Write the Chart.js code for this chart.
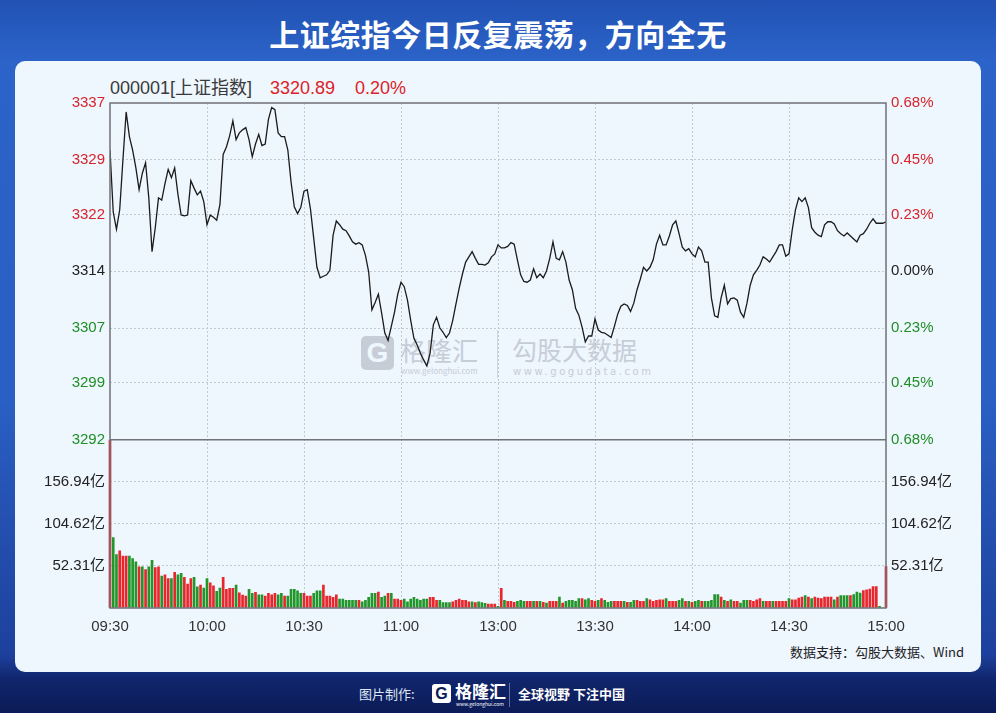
<!DOCTYPE html>
<html>
<head>
<meta charset="utf-8">
<script src="https://cdn.jsdelivr.net/npm/chart.js@4"></script>
<style>
  body { margin: 0; width: 996px; height: 713px; overflow: hidden; position: relative;
    font-family: "Liberation Sans", Arial, "Noto Sans CJK SC", sans-serif;
    background: linear-gradient(180deg, #2152b4 0px, #2c63c8 60px, #2a5fc3 400px, #1d409d 655px, #10256b 680px, #0b1b57 713px); }
  #title { position: absolute; left: 0; top: 13px; width: 996px; text-align: center; color: #fff;
    font: bold 30px/40px "Noto Sans CJK SC", sans-serif; letter-spacing: 0.5px; }
  #panel { position: absolute; left: 15px; top: 61px; width: 966px; height: 611px; border-radius: 10px; background: #eef6fe; }
  .abs { position: absolute; white-space: nowrap; }
  .quote { top: 76px; font: 18px/24px "Liberation Sans", Arial, "Noto Sans CJK SC", sans-serif; }
  .red { color: #dc2328; }
  .wm { color: #c6cdd7; font-family: "Noto Sans CJK SC", sans-serif; }
  #chart { position: absolute; left: 0; top: 0; }
  .foot { color: #fff; font-family: "Noto Sans CJK SC", sans-serif; }
</style>
</head>
<body>
<div id="title">上证综指今日反复震荡，方向全无</div>
<div id="panel"></div>

<div class="abs quote" style="left:110px;color:#3a3a3a">000001[上证指数]</div>
<div class="abs quote red" style="left:270px">3320.89</div>
<div class="abs quote red" style="left:355px">0.20%</div>

<!-- watermarks -->
<div class="abs" style="left:361px;top:336px;width:33px;height:34px;border-radius:5px;background:#c6cdd7"></div>
<div class="abs" style="left:361px;top:336px;width:33px;height:34px;color:#eef6fe;font:bold 28px/34px 'Liberation Sans';text-align:center">G</div>
<div class="abs wm" style="left:400px;top:332px;font-size:26px;line-height:36px">格隆汇</div>
<div class="abs wm" style="left:401px;top:366px;font-size:8px;line-height:10px">www.gelonghui.com</div>
<div class="abs" style="left:497px;top:330px;width:1px;height:48px;background:#cfd6df"></div>
<div class="abs wm" style="left:512px;top:331px;font-size:25px;line-height:36px">勾股大数据</div>
<div class="abs wm" style="left:513px;top:366px;font-size:10px;line-height:12px;letter-spacing:2.6px;font-family:'DejaVu Sans'">www.gogudata.com</div>

<div class="abs" style="left:790px;top:643px;font:13px/18px 'Noto Sans CJK SC',sans-serif;color:#222">数据支持：勾股大数据、Wind</div>

<!-- footer -->
<div class="abs foot" style="left:359px;top:685px;font-size:13px;line-height:18px;color:#dfe6f5">图片制作:</div>
<div class="abs" style="left:432px;top:684px;width:19px;height:19px;border-radius:3px;background:#fff"></div>
<div class="abs" style="left:432px;top:684px;width:19px;height:19px;color:#0b1b57;font:bold 16px/19px 'Liberation Sans';text-align:center">G</div>
<div class="abs foot" style="left:455px;top:680px;font-size:17px;line-height:22px;font-weight:bold">格隆汇</div>
<div class="abs foot" style="left:456px;top:701px;font-size:5px;line-height:6px">www.gelonghui.com</div>
<div class="abs" style="left:509px;top:683px;width:1px;height:24px;background:#5d6fa6"></div>
<div class="abs foot" style="left:518px;top:685px;font-size:13px;line-height:18px;font-weight:bold">全球视野 下注中国</div>

<canvas id="chart" width="996" height="713"></canvas>

<script>
// previous close of 000001 (3320.89 is +0.20%)
const prevClose = 3314.26;

// one point per minute, 09:30-11:30 then 13:01-15:00
const prices = [
  3330.5, 3322.2, 3319.9, 3322.5, 3329.2, 3335.6, 3332.3, 3330.5, 3328.1, 3325.2,
  3327.4, 3328.8, 3324.1, 3316.9, 3320.1, 3324.1, 3323.8, 3326.0, 3327.9, 3326.8,
  3328.1, 3324.6, 3321.8, 3321.7, 3321.8, 3326.4, 3325.4, 3324.5, 3325.0, 3323.6,
  3320.5, 3321.8, 3321.5, 3321.1, 3323.2, 3329.9, 3330.9, 3332.4, 3334.4, 3331.9,
  3332.8, 3333.2, 3333.5, 3331.9, 3329.6, 3331.3, 3332.6, 3331.1, 3331.3, 3334.6,
  3336.2, 3335.9, 3332.8, 3332.3, 3332.3, 3330.5, 3326.2, 3322.9, 3322.0, 3322.8,
  3325.0, 3325.2, 3322.6, 3318.7, 3314.8, 3313.4, 3313.6, 3313.8, 3314.4, 3319.1,
  3321.0, 3320.5, 3319.9, 3319.7, 3319.0, 3318.2, 3317.9, 3318.1, 3317.8, 3316.4,
  3314.2, 3309.1, 3310.1, 3311.2, 3308.7, 3306.0, 3305.0, 3306.9, 3308.8, 3311.2,
  3312.8, 3312.2, 3310.4, 3307.7, 3305.3, 3304.4, 3303.3, 3302.4, 3301.6, 3303.3,
  3307.1, 3308.1, 3306.7, 3306.1, 3305.4, 3306.0, 3307.7, 3309.9, 3312.0, 3313.9,
  3315.5, 3316.2, 3316.9, 3316.0, 3315.2, 3315.2, 3315.1, 3315.4, 3316.2, 3316.6,
  3317.8, 3317.4, 3317.4, 3317.6, 3318.1, 3317.9, 3315.8, 3313.8, 3312.9, 3312.8,
  3313.1, 3314.6, 3313.4, 3313.9, 3313.4, 3314.3, 3316.0, 3318.2, 3316.0, 3315.8,
  3316.9, 3315.5, 3313.1, 3311.8, 3309.3, 3308.4, 3306.8, 3304.8, 3305.6, 3305.6,
  3307.9, 3306.4, 3306.1, 3306.0, 3305.7, 3305.4, 3306.9, 3308.5, 3309.6, 3309.9,
  3309.7, 3308.9, 3310.0, 3311.8, 3313.2, 3314.8, 3314.3, 3314.8, 3315.8, 3317.9,
  3319.1, 3317.8, 3317.8, 3319.0, 3320.5, 3321.0, 3319.3, 3317.5, 3317.0, 3317.3,
  3316.6, 3316.2, 3317.5, 3317.0, 3315.5, 3315.5, 3310.7, 3308.3, 3308.1, 3310.7,
  3312.4, 3309.9, 3310.6, 3310.7, 3310.4, 3308.8, 3308.1, 3310.0, 3312.4, 3313.8,
  3314.4, 3315.1, 3316.2, 3315.9, 3315.5, 3316.2, 3316.9, 3317.8, 3317.8, 3316.3,
  3316.6, 3319.8, 3322.5, 3324.1, 3323.6, 3324.1, 3322.8, 3320.1, 3319.5, 3319.1,
  3318.9, 3320.5, 3320.9, 3320.9, 3320.6, 3319.7, 3319.3, 3319.0, 3319.4, 3319.0,
  3318.6, 3318.2, 3319.1, 3319.3, 3319.9, 3320.7, 3321.3, 3320.7, 3320.7, 3320.7,
  3320.9
];

// turnover per minute, 亿元
const volumes = [
  209, 87.5, 66.5, 71, 64.4, 64.4, 64.4, 61.5, 57.3, 51.2,
  51.2, 47.9, 51.2, 59.4, 50.4, 51.2, 39.6, 41.3, 36.7, 36.7,
  44.2, 41.3, 43, 38, 29.7, 36.7, 38, 26.4, 28.5, 24.8,
  36.7, 31.4, 27.6, 20.6, 24.8, 38, 23.1, 24.4, 24.4, 28.5,
  19, 16.1, 14.9, 23.1, 18.2, 19.4, 16.5, 16.5, 14.9, 18.2,
  16.5, 18.2, 16.5, 18.2, 14.9, 14.9, 23.1, 23.1, 21.4, 18.2,
  18.2, 14.9, 14.9, 18.2, 21.4, 21.4, 28.5, 14.9, 14.9, 13.2,
  16.5, 11.1, 11.1, 9.5, 9.5, 9.5, 9.5, 9.5, 7.8, 9.5,
  13.2, 18.2, 18.2, 19.8, 13.2, 14.9, 18.2, 18.2, 11.1, 11.1,
  9.5, 11.1, 7.8, 11.1, 13.2, 11.1, 9.5, 11.1, 11.1, 13.2,
  13.2, 9.5, 9.5, 6.6, 6.6, 6.6, 7.8, 9.5, 11.1, 9.5,
  9.5, 7.8, 7.8, 6.6, 7.8, 6.6, 5.8, 5.0, 5.0, 5.0,
  2.0, 24.4, 9.5, 8.2, 8.2, 6.9, 8.2, 9.5, 8.2, 8.2,
  8.2, 8.2, 8.2, 8.2, 6.9, 6.2, 8.2, 8.2, 8.2, 13.6,
  6.2, 8.2, 9.5, 9.5, 8.2, 11.6, 11.6, 10.3, 11.6, 9.5,
  8.2, 9.5, 11.6, 9.5, 6.9, 8.2, 8.2, 8.2, 8.2, 8.2,
  6.9, 6.9, 9.5, 9.5, 8.2, 8.2, 11.6, 10.3, 8.2, 9.5,
  10.3, 10.3, 11.6, 8.2, 8.2, 8.2, 9.5, 11.6, 8.2, 8.2,
  6.9, 8.2, 9.5, 8.2, 8.2, 8.2, 9.5, 16.7, 16.7, 13.6,
  9.5, 8.2, 10.3, 8.2, 8.2, 6.2, 9.5, 9.5, 9.5, 8.2,
  10.3, 11.6, 8.2, 8.2, 8.2, 8.2, 8.2, 8.2, 8.2, 8.2,
  11.6, 10.3, 10.3, 12.4, 13.6, 15.3, 13.6, 11.6, 13.6, 12.4,
  11.6, 13.6, 13.6, 13.6, 10.3, 13.6, 15.3, 15.3, 15.3, 15.3,
  16.7, 19.8, 18.6, 21.8, 22.7, 23.5, 26.7, 26.7, 2.0, 0,
  51.5
];

// u = minute closed up (red bar), d = down (green bar)
const volDirection =
  'udduuudddu' + 'dudduuduud' + 'udduuuddud' + 'duudduuuud' + 'uuuddudduu' +
  'uudduddddd' + 'uuuddduuuu' + 'uddddddudd' + 'dddudduduu' + 'uddddddddu' +
  'uudddduuuu' + 'uududdduuu' + 'duduuudddu' + 'udududuuud' + 'uddddduddu' +
  'ududdduuud' + 'udduuuduuu' + 'uuduuuddud' + 'uddudddddu' + 'duduuddduu' +
  'uuduuduuuu' + 'duuuududuu' + 'uuuududddu' + 'ddduuuuudu' + 'u';

const timeLabels = ['09:30', '10:00', '10:30', '11:00', '13:00', '13:30', '14:00', '14:30', '15:00'];
const pctLevels = [-0.68, -0.45, -0.23, 0, 0.23, 0.45, 0.68];
const priceTickLabels = ['3292', '3299', '3307', '3314', '3322', '3329', '3337'];
const pctTickLabels = ['0.68%', '0.45%', '0.23%', '0.00%', '0.23%', '0.45%', '0.68%'];
const volTicks = [0, 52.31, 104.62, 156.94, 209.25];
const volTickLabels = ['', '52.31亿', '104.62亿', '156.94亿', ''];

const RED = '#e8262c';
const GREEN = '#22962a';
const LABEL_RED = '#d8232a';
const LABEL_GREEN = '#1f8f26';
const GRID = '#c3c9d2';

const priceMin = prevClose * (1 + pctLevels[0] / 100);
const priceMax = prevClose * (1 + pctLevels[6] / 100);
const priceTickValues = pctLevels.map(p => prevClose * (1 + p / 100));

const tickFont = { family: '"Liberation Sans", Arial, "Noto Sans CJK SC"', size: 15 };
const levelColor = ctx => ctx.index < 3 ? LABEL_GREEN : (ctx.index > 3 ? LABEL_RED : '#222');

// solid frame round the plot and the line between price and volume panes
const framePlugin = {
  id: 'frame',
  afterDraw(chart) {
    const { ctx, chartArea: a, scales } = chart;
    ctx.save();
    ctx.strokeStyle = '#6f7277';
    ctx.lineWidth = 1.5;
    ctx.strokeRect(a.left, a.top, a.right - a.left, a.bottom - a.top);
    const sep = scales.y.bottom;
    ctx.beginPath();
    ctx.moveTo(a.left, sep);
    ctx.lineTo(a.right, sep);
    ctx.stroke();
    ctx.restore();
  }
};

new Chart(document.getElementById('chart'), {
  type: 'line',
  data: {
    datasets: [
      {
        type: 'line',
        data: prices.map((v, i) => ({ x: i, y: v })),
        yAxisID: 'y',
        borderColor: '#1b1b1b',
        borderWidth: 1.3,
        pointRadius: 0,
        tension: 0
      },
      {
        type: 'bar',
        data: volumes.map((v, i) => ({ x: i, y: v })),
        yAxisID: 'yv',
        backgroundColor: volDirection.split('').map(d => d === 'u' ? RED : GREEN),
        barThickness: 2,
        borderWidth: 0,
        clip: { left: 2, right: 2, top: 0, bottom: 0 }
      }
    ]
  },
  options: {
    responsive: false,
    animation: false,
    layout: { padding: { left: 30, right: 30, top: 103, bottom: 70 } },
    plugins: { legend: { display: false }, tooltip: { enabled: false } },
    scales: {
      x: {
        type: 'linear',
        min: 0,
        max: 240,
        offset: false,
        afterBuildTicks: s => { s.ticks = timeLabels.map((t, i) => ({ value: i * 30 })); },
        afterFit: s => { s.height = 35; },
        ticks: {
          autoSkip: false,
          maxRotation: 0,
          padding: 10,
          color: '#333',
          font: tickFont,
          callback: (v, i) => timeLabels[i]
        },
        grid: {
          offset: false,
          drawTicks: false,
          color: ctx => (ctx.index === 0 || ctx.index === 8) ? 'transparent' : GRID
        },
        border: { display: false, dash: [2, 2] }
      },
      yv: {
        position: 'left',
        stack: 'left',
        stackWeight: 1,
        min: 0,
        max: volTicks[4],
        afterBuildTicks: s => { s.ticks = volTicks.map(v => ({ value: v })); },
        afterFit: s => { s.width = 80; },
        ticks: { color: '#222', font: tickFont, padding: 5, callback: (v, i) => volTickLabels[i] },
        grid: { drawTicks: false, color: ctx => (ctx.index === 0 || ctx.index === 4) ? 'transparent' : GRID },
        border: { display: false, dash: [2, 2] }
      },
      y: {
        position: 'left',
        stack: 'left',
        stackWeight: 2,
        min: priceMin,
        max: priceMax,
        afterBuildTicks: s => { s.ticks = priceTickValues.map(v => ({ value: v })); },
        afterFit: s => { s.width = 80; },
        ticks: { color: levelColor, font: tickFont, padding: 5, callback: (v, i) => priceTickLabels[i] },
        grid: { drawTicks: false, color: ctx => (ctx.index === 0 || ctx.index === 6) ? 'transparent' : GRID },
        border: { display: false, dash: [2, 2] }
      },
      yp: {
        position: 'right',
        stack: 'right',
        stackWeight: 2,
        min: priceMin,
        max: priceMax,
        afterBuildTicks: s => { s.ticks = priceTickValues.map(v => ({ value: v })); },
        afterFit: s => { s.width = 80; },
        ticks: { color: levelColor, font: tickFont, padding: 5, callback: (v, i) => pctTickLabels[i] },
        grid: { display: false, drawTicks: false },
        border: { display: false }
      },
      yvr: {
        position: 'right',
        stack: 'right',
        stackWeight: 1,
        min: 0,
        max: volTicks[4],
        afterBuildTicks: s => { s.ticks = volTicks.map(v => ({ value: v })); },
        afterFit: s => { s.width = 80; },
        ticks: { color: '#222', font: tickFont, padding: 5, callback: (v, i) => volTickLabels[i] },
        grid: { display: false, drawTicks: false },
        border: { display: false }
      }
    }
  },
  plugins: [framePlugin]
});
</script>
</body>
</html>
